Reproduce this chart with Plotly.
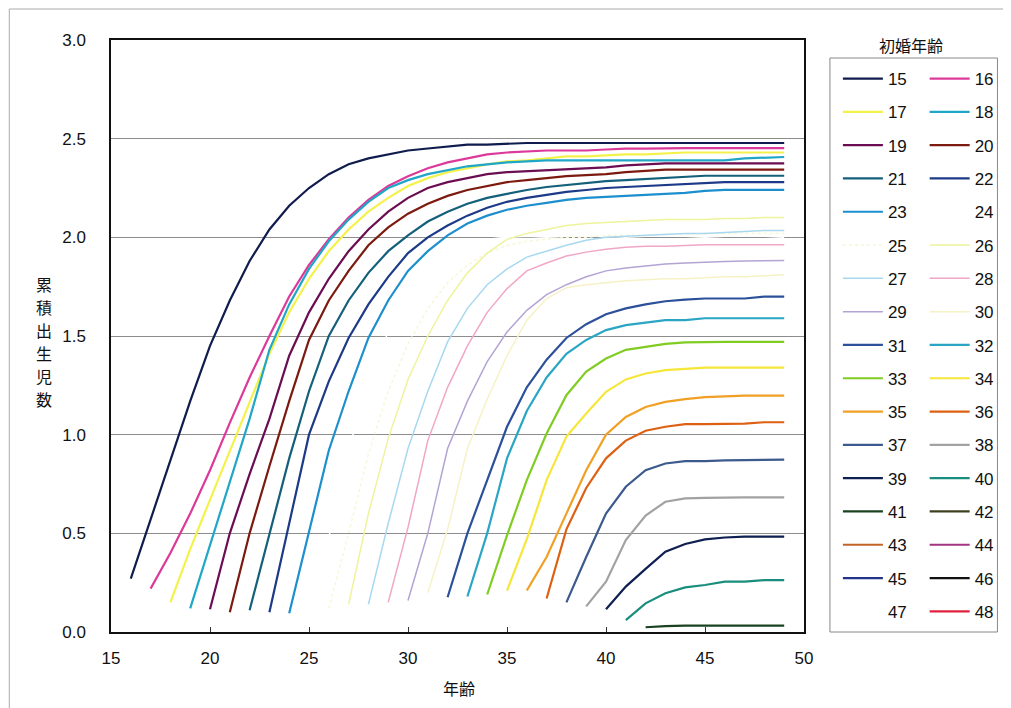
import plotly.graph_objects as go

# 初婚年齢別 累積出生児数（年齢別）
marriage_ages = list(range(15, 49))

cum_15 = [0.27, 0.57, 0.88, 1.17, 1.45, 1.68, 1.88, 2.04, 2.16, 2.25, 2.32, 2.37, 2.40, 2.42,
          2.44, 2.45, 2.46, 2.47, 2.47, 2.475, 2.478, 2.478, 2.478, 2.478, 2.478, 2.478, 2.478,
          2.478, 2.478, 2.478, 2.478, 2.478, 2.478, 2.478]
cum_16 = [0.22, 0.40, 0.60, 0.82, 1.06, 1.29, 1.50, 1.70, 1.86, 1.99, 2.10, 2.19, 2.26, 2.31,
          2.35, 2.38, 2.40, 2.42, 2.43, 2.435, 2.44, 2.44, 2.44, 2.445, 2.45, 2.45, 2.452,
          2.452, 2.452, 2.452, 2.452, 2.452, 2.452]
cum_17 = [0.15, 0.42, 0.67, 0.92, 1.16, 1.41, 1.62, 1.79, 1.93, 2.04, 2.13, 2.20, 2.26, 2.30,
          2.33, 2.35, 2.37, 2.385, 2.39, 2.40, 2.41, 2.41, 2.415, 2.42, 2.42, 2.425, 2.43,
          2.43, 2.43, 2.43, 2.43, 2.43]
cum_18 = [0.12, 0.44, 0.76, 1.08, 1.43, 1.66, 1.84, 1.98, 2.09, 2.18, 2.25, 2.29, 2.32, 2.34,
          2.36, 2.37, 2.38, 2.385, 2.39, 2.39, 2.39, 2.39, 2.39, 2.39, 2.39, 2.39, 2.39, 2.39,
          2.40, 2.405, 2.407]
cum_19 = [0.115, 0.50, 0.80, 1.08, 1.40, 1.62, 1.79, 1.93, 2.04, 2.13, 2.20, 2.25, 2.28, 2.30,
          2.32, 2.33, 2.335, 2.34, 2.345, 2.35, 2.355, 2.365, 2.37, 2.375, 2.375, 2.375, 2.375,
          2.375, 2.375, 2.375]
cum_20 = [0.10, 0.50, 0.84, 1.17, 1.48, 1.68, 1.83, 1.96, 2.05, 2.12, 2.17, 2.21, 2.24, 2.26,
          2.28, 2.29, 2.30, 2.31, 2.315, 2.32, 2.33, 2.335, 2.343, 2.343, 2.343, 2.343, 2.343,
          2.343, 2.343]
cum_21 = [0.11, 0.50, 0.88, 1.22, 1.50, 1.68, 1.82, 1.93, 2.01, 2.08, 2.13, 2.17, 2.20, 2.22,
          2.24, 2.255, 2.265, 2.275, 2.285, 2.29, 2.295, 2.30, 2.305, 2.312, 2.312, 2.312,
          2.312, 2.312]
cum_22 = [0.10, 0.55, 1.00, 1.27, 1.49, 1.66, 1.80, 1.92, 2.00, 2.06, 2.11, 2.15, 2.18, 2.20,
          2.215, 2.23, 2.24, 2.25, 2.255, 2.26, 2.265, 2.27, 2.275, 2.28, 2.28, 2.28, 2.28]
cum_23 = [0.095, 0.50, 0.92, 1.22, 1.49, 1.68, 1.83, 1.93, 2.01, 2.07, 2.11, 2.14, 2.16, 2.175,
          2.19, 2.20, 2.205, 2.21, 2.215, 2.22, 2.225, 2.235, 2.24, 2.24, 2.24, 2.24]
cum_24 = [0.10, 0.48, 0.92, 1.28, 1.52, 1.70, 1.82, 1.91, 1.96, 1.99, 2.00, 2.005, 2.0, 2.005,
          2.01, 2.005, 2.0, 2.005, 2.01, 2.005, 2.0, 2.005, 2.01, 2.005, 2.0]
cum_25 = [0.12, 0.50, 0.90, 1.22, 1.46, 1.64, 1.77, 1.86, 1.92, 1.96, 1.98, 1.99, 2.00, 2.00,
          2.01, 2.01, 2.01, 2.015, 2.015, 2.02, 2.02, 2.02, 2.02, 2.02]
cum_26 = [0.14, 0.60, 0.98, 1.28, 1.50, 1.68, 1.82, 1.92, 1.99, 2.02, 2.04, 2.06, 2.07, 2.075,
          2.08, 2.085, 2.09, 2.09, 2.09, 2.095, 2.095, 2.10, 2.10]
cum_27 = [0.14, 0.55, 0.93, 1.22, 1.47, 1.64, 1.76, 1.84, 1.90, 1.93, 1.96, 1.985, 2.00, 2.005,
          2.01, 2.015, 2.02, 2.02, 2.025, 2.03, 2.035, 2.035]
cum_28 = [0.15, 0.53, 0.97, 1.24, 1.45, 1.62, 1.74, 1.83, 1.87, 1.905, 1.925, 1.94, 1.95, 1.955,
          1.955, 1.96, 1.963, 1.963, 1.963, 1.963, 1.963]
cum_29 = [0.16, 0.50, 0.93, 1.17, 1.37, 1.52, 1.63, 1.71, 1.76, 1.80, 1.83, 1.845, 1.855, 1.865,
          1.87, 1.875, 1.878, 1.88, 1.882, 1.882]
cum_30 = [0.20, 0.52, 0.93, 1.18, 1.40, 1.58, 1.69, 1.745, 1.76, 1.77, 1.78, 1.785, 1.79, 1.79,
          1.795, 1.80, 1.80, 1.805, 1.81]
cum_31 = [0.176, 0.50, 0.77, 1.04, 1.24, 1.38, 1.49, 1.56, 1.61, 1.64, 1.66, 1.676, 1.684, 1.69,
          1.69, 1.69, 1.70, 1.70]
cum_32 = [0.18, 0.50, 0.88, 1.12, 1.29, 1.41, 1.48, 1.53, 1.555, 1.566, 1.58, 1.58, 1.59, 1.59,
          1.59, 1.59, 1.59]
cum_33 = [0.19, 0.49, 0.77, 1.006, 1.20, 1.32, 1.386, 1.43, 1.445, 1.46, 1.468, 1.47, 1.47, 1.47,
          1.47, 1.47]
cum_34 = [0.21, 0.47, 0.77, 0.99, 1.107, 1.217, 1.28, 1.31, 1.327, 1.335, 1.34, 1.34, 1.34, 1.34,
          1.34]
cum_35 = [0.21, 0.38, 0.60, 0.82, 1.00, 1.09, 1.14, 1.166, 1.18, 1.19, 1.194, 1.198, 1.198, 1.198]
cum_36 = [0.17, 0.52, 0.73, 0.88, 0.97, 1.02, 1.04, 1.053, 1.053, 1.053, 1.056, 1.063, 1.063]
cum_37 = [0.15, 0.38, 0.60, 0.736, 0.82, 0.854, 0.866, 0.866, 0.87, 0.872, 0.874, 0.874]
cum_38 = [0.13, 0.255, 0.466, 0.59, 0.66, 0.677, 0.68, 0.682, 0.682, 0.682, 0.682]
cum_39 = [0.115, 0.23, 0.32, 0.407, 0.446, 0.469, 0.479, 0.483, 0.483, 0.483]
cum_40 = [0.06, 0.145, 0.196, 0.226, 0.238, 0.255, 0.255, 0.263, 0.263]
cum_41 = [0.024, 0.03, 0.032, 0.032, 0.032, 0.032, 0.032, 0.032]
cum_42 = []
cum_43 = []
cum_44 = []
cum_45 = []
cum_46 = []
cum_47 = []
cum_48 = []

y_ticks = [0.0, 0.5, 1.0, 1.5, 2.0, 2.5, 3.0]
x_ticks = [15, 20, 25, 30, 35, 40, 45, 50]
y_title_chars = ["累", "積", "出", "生", "児", "数"]

series = [cum_15, cum_16, cum_17, cum_18, cum_19, cum_20, cum_21, cum_22, cum_23, cum_24,
          cum_25, cum_26, cum_27, cum_28, cum_29, cum_30, cum_31, cum_32, cum_33, cum_34,
          cum_35, cum_36, cum_37, cum_38, cum_39, cum_40, cum_41, cum_42, cum_43, cum_44,
          cum_45, cum_46, cum_47, cum_48]

colors = {
    15: "#0f1c4d", 16: "#dc3a9a", 17: "#f4f24a", 18: "#20a6c6", 19: "#6a0d52",
    20: "#7c1a10", 21: "#14607a", 22: "#1c3a88", 23: "#1d8fce", 24: "#ffffff",
    25: "#f6f6d8", 26: "#eef39c", 27: "#a8d8f0", 28: "#f0a6c6", 29: "#b3a4d4",
    30: "#f6f2c6", 31: "#2c509a", 32: "#2aa6c4", 33: "#80cc22", 34: "#f6e63a",
    35: "#f0a024", 36: "#de6012", 37: "#3c5a8e", 38: "#a2a2a2", 39: "#0e1f52",
    40: "#1a8e7e", 41: "#1a4220", 42: "#3e4020", 43: "#c2642a", 44: "#a23482",
    45: "#22348a", 46: "#111111", 47: "#ffffff", 48: "#e0203e",
}
pale = {24, 25, 26, 27, 28, 29, 30}

# page body has an 8px margin, so the figure is 8px smaller and sits at (8, 8)
# plot area in window pixels: x 111..806, y 40..632
def xp(px):
    return (px - 111) / 695.0

def yp(py):
    return (632 - py) / 592.0

fig = go.Figure()

for age, vals in zip(marriage_ages, series):
    xs = list(range(age + 1, age + 1 + len(vals)))
    ys = vals
    if not vals:
        xs, ys = [None], [None]
    fig.add_trace(go.Scatter(
        x=xs, y=ys, mode="lines", name=str(age),
        legendgroup=str(age),
        legend="legend" if age % 2 == 1 else "legend2",
        line=dict(color=colors[age], width=1.5 if age in pale else 2.2,
                  dash="dot" if age == 25 else "solid"),
        hoverinfo="x+y+name",
    ))

tick_font = dict(family="Liberation Sans, Arial, sans-serif", size=17, color="#111")
leg_font = dict(family="Liberation Sans, Arial, sans-serif", size=17, color="#111")
jp_font = dict(family="Noto Sans CJK JP", size=16, color="#111")

fig.update_xaxes(range=[15, 50], tickvals=x_ticks, ticks="inside", ticklen=5,
                 tickcolor="#333", showgrid=False, zeroline=False, showline=True,
                 mirror=True, linecolor="#111", linewidth=1.5, tickfont=tick_font,
                 ticklabelstandoff=10)
fig.update_yaxes(range=[0, 3], tickvals=y_ticks, tickformat=".1f", ticks="",
                 showgrid=True, gridcolor="#8c8c8c", gridwidth=1, zeroline=False,
                 showline=True, mirror=True, linecolor="#111", linewidth=1.5,
                 tickfont=tick_font, ticklabelstandoff=20)

legend_common = dict(xanchor="left", yanchor="top", bgcolor="rgba(0,0,0,0)",
                     borderwidth=0, font=leg_font, tracegroupgap=8.2, itemwidth=40)

annotations = [
    dict(text="初婚年齢", xref="paper", yref="paper", x=xp(913), y=yp(45),
         xanchor="center", yanchor="middle", showarrow=False, font=jp_font),
    dict(text="年齢", xref="paper", yref="paper", x=xp(460), y=yp(688),
         xanchor="center", yanchor="middle", showarrow=False, font=jp_font),
]
for i, ch in enumerate(y_title_chars):
    annotations.append(dict(text=ch, xref="paper", yref="paper", x=xp(44),
                            y=yp(284 + 23 * i), xanchor="center", yanchor="middle",
                            showarrow=False, font=jp_font))

fig.update_layout(
    width=1003, height=700,
    margin=dict(l=103, r=205, t=32, b=76),
    paper_bgcolor="white", plot_bgcolor="white",
    legend=dict(x=xp(840), y=yp(61), **legend_common),
    legend2=dict(x=xp(927), y=yp(61), **legend_common),
    shapes=[
        # legend frame
        dict(type="rect", xref="paper", yref="paper", x0=xp(832), x1=xp(1000),
             y0=yp(632), y1=yp(58), line=dict(color="#888", width=1)),
        # edges of the scanned sheet (top and left)
        dict(type="line", xref="paper", yref="paper", x0=xp(9), x1=xp(1011),
             y0=yp(9), y1=yp(9), line=dict(color="#aaa", width=1)),
        dict(type="line", xref="paper", yref="paper", x0=xp(9), x1=xp(9),
             y0=yp(9), y1=yp(708), line=dict(color="#aaa", width=1)),
    ],
    annotations=annotations,
    showlegend=True,
)

fig.write_html("out.html")
